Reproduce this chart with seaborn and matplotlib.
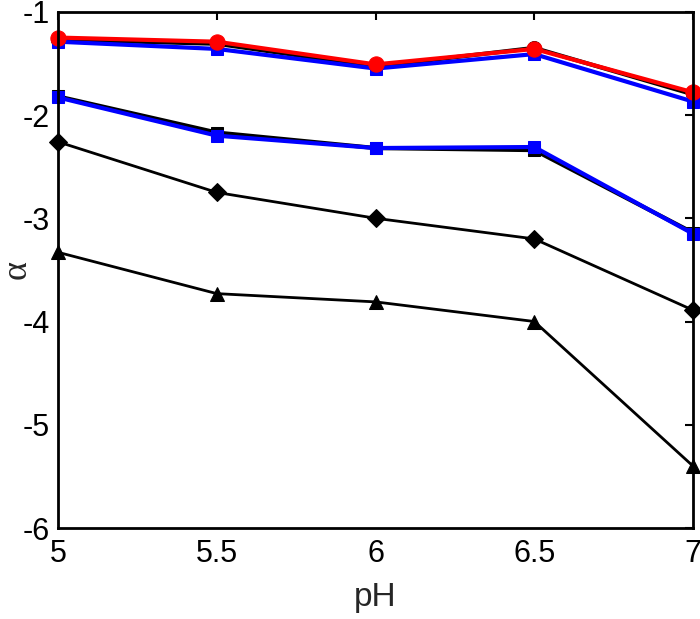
import numpy as np
import pandas as pd
import matplotlib
matplotlib.use("Agg")
from matplotlib import pyplot as plt
import seaborn as sns

ph = [5.0, 5.5, 6.0, 6.5, 7.0]

# top group
black_circle = [-1.27, -1.31, -1.53, -1.35, -1.80]
red_circle = [-1.25, -1.29, -1.51, -1.36, -1.78]
blue_top = [-1.29, -1.36, -1.55, -1.41, -1.87]
# second group
black_square = [-1.82, -2.17, -2.32, -2.34, -3.14]
blue_square = [-1.83, -2.20, -2.32, -2.31, -3.15]
# lower lines
black_diamond = [-2.26, -2.75, -3.00, -3.20, -3.89]
black_triangle = [-3.33, -3.73, -3.81, -4.00, -5.40]

sns.set_style("white")
plt.rcParams['font.family'] = ['Liberation Sans', 'DejaVu Sans']
plt.rcParams['axes.unicode_minus'] = False

fig = plt.figure(figsize=(7.0, 6.19), dpi=100)
ax = fig.add_axes([0.083, 0.147, 0.907, 0.834])

series = [
    (black_triangle, "k", "^", 2.0, 10),
    (black_diamond, "k", "D", 2.0, 9),
    (black_square, "k", "s", 3.0, 9),
    (blue_square, "#0000ff", "s", 3.0, 9),
    (black_circle, "k", "o", 3.0, 10),
    (blue_top, "#0000ff", "s", 3.0, 9),
    (red_circle, "#ff0000", "o", 3.0, 11),
]
for vals, col, mk, lw, ms in series:
    df = pd.DataFrame({"pH": ph, "alpha": vals})
    sns.lineplot(data=df, x="pH", y="alpha", ax=ax, color=col, marker=mk,
                 linewidth=lw, markersize=ms, markeredgecolor=col,
                 clip_on=False)

ax.set_xlim(5, 7)
ax.set_ylim(-6, -1)
ax.set_xticks([5, 5.5, 6, 6.5, 7])
ax.set_xticklabels(["5", "5.5", "6", "6.5", "7"])
ax.set_yticks([-6, -5, -4, -3, -2, -1])
ax.tick_params(direction="in", length=6, width=1.5, labelsize=22,
               top=True, right=True, colors="k", pad=8)
ax.tick_params(axis="y", pad=6)
for s in ax.spines.values():
    s.set_visible(True)
    s.set_color("k")
    s.set_linewidth(2.0)

ax.set_xlabel("pH", fontsize=24)
ax.xaxis.set_label_coords(0.5, -0.105)
ax.set_ylabel("α", fontsize=26, family="Liberation Serif", rotation=90,
              ha="center", va="center")
ax.yaxis.set_label_coords(-0.064, 0.5)

fig.savefig("out.png", dpi=100)
